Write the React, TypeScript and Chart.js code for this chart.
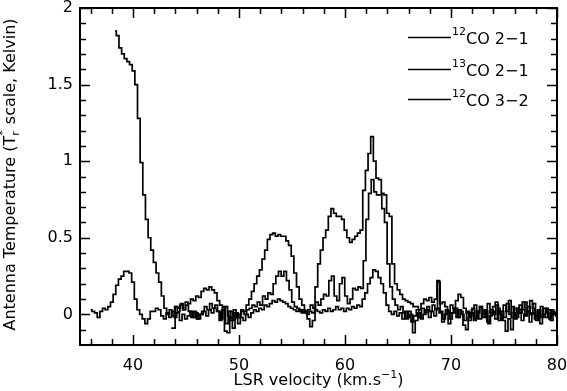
import React, { useEffect, useRef } from "react";
import { Chart, registerables } from "chart.js";

Chart.register(...registerables);

// ---- Data (velocity channels: start + i * width, km/s ; temperatures in K) ----
const CHANNEL_WIDTH = 0.25;

const START_12CO21 = 38.3;
const T_12CO21 = [
  1.85, 1.82, 1.74, 1.70, 1.67, 1.65, 1.63, 1.59, 1.50, 1.28, 0.99, 0.78,
  0.62, 0.50, 0.42, 0.34, 0.27, 0.21, 0.12, 0.04, 0.00, 0.03, -0.01, 0.05,
  0.02, 0.06, 0.03, 0.08, 0.07, 0.10, 0.09, 0.12, 0.11, 0.15, 0.17, 0.16,
  0.18, 0.16, 0.14, 0.09, 0.06, 0.03, 0.05, -0.01, 0.02, -0.03, 0.01, -0.02,
  0.03, 0.02, 0.06, 0.10, 0.15, 0.20, 0.25, 0.29, 0.36, 0.42, 0.49, 0.52,
  0.53, 0.51, 0.52, 0.51, 0.51, 0.48, 0.45, 0.38, 0.27, 0.18, 0.10, 0.06,
  0.02, -0.03, -0.08, -0.04, 0.18, 0.33, 0.42, 0.50, 0.55, 0.64, 0.69, 0.66,
  0.64, 0.64, 0.62, 0.55, 0.50, 0.47, 0.49, 0.51, 0.53, 0.55, 0.81, 0.94,
  1.05, 1.16, 1.00, 0.89, 0.88, 0.79, 0.78, 0.66, 0.64, 0.33, 0.20, 0.16,
  0.13, 0.10, 0.09, 0.08, 0.07, 0.05, 0.05, 0.03, 0.07, 0.10, 0.09, 0.11,
  0.08, 0.10, 0.22, 0.07, 0.08, 0.05, 0.02, 0.06, 0.04, 0.09, 0.13, 0.11,
  0.04, 0.01, -0.04, 0.03, 0.06, 0.02, 0.05, -0.02, 0.03, 0.07, 0.01, 0.05,
  0.08, 0.02, -0.03, 0.06, 0.02, 0.09, -0.02, 0.04, 0.01, 0.06, 0.03, 0.08,
  0.02, 0.09, 0.04, -0.01, 0.03, 0.05, 0.00, 0.04, -0.02, 0.03, 0.01, 0.02,
];

const START_13CO21 = 36.0;
const T_13CO21 = [
  0.03, 0.02, 0.01, -0.02, 0.02, 0.04, 0.03, 0.05, 0.08, 0.13, 0.19, 0.23,
  0.25, 0.28, 0.28, 0.27, 0.21, 0.10, 0.03, 0.00, -0.03, -0.06, -0.03, 0.02,
  0.02, 0.04, 0.03, -0.01, -0.03, 0.01, -0.02, 0.02, -0.02, 0.01, -0.04, 0.00,
  -0.03, -0.01, 0.02, -0.02, 0.01, -0.03, 0.00, 0.02, -0.01, 0.03, 0.01, 0.04,
  0.02, -0.04, 0.03, -0.11, -0.12, -0.02, -0.09, 0.01, -0.06, -0.02, -0.04, 0.00,
  -0.02, 0.01, 0.03, 0.02, 0.04, 0.03, 0.06, 0.05, 0.07, 0.09, 0.08, 0.10,
  0.09, 0.08, 0.07, 0.05, 0.04, 0.03, 0.02, 0.03, 0.01, 0.02, 0.00, 0.02,
  0.01, 0.03, 0.02, 0.01, 0.03, 0.02, 0.04, 0.02, 0.03, 0.05, 0.03, 0.04,
  0.02, 0.04, 0.03, 0.05, 0.04, 0.06, 0.05, 0.10, 0.14, 0.20, 0.24, 0.29,
  0.28, 0.24, 0.20, 0.14, 0.06, 0.02, 0.00, 0.02, -0.01, 0.01, -0.03, 0.02,
  -0.02, 0.00, -0.12, -0.04, 0.01, -0.03, 0.00, 0.03, -0.02, 0.02, -0.01, 0.04,
  0.01, -0.05, 0.00, 0.02, -0.03, 0.01, 0.04, -0.02, 0.02, -0.07, -0.10, -0.02,
  0.01, -0.04, 0.02, -0.03, 0.00, 0.03, -0.05, -0.01, 0.02, -0.03, 0.04, 0.00,
  -0.04, -0.11, -0.03, -0.10, 0.01, -0.02, 0.03, -0.04, 0.00, 0.02, -0.05, 0.01,
  -0.03, 0.02, -0.06, 0.00, -0.02, 0.03, -0.04, 0.01, -0.01,
];

const START_12CO32 = 43.6;
const T_12CO32 = [
  -0.09, -0.09, 0.05, 0.04, 0.07, 0.03, 0.06, 0.02, -0.02, 0.02, -0.03, 0.00,
  0.02, 0.05, 0.03, 0.07, 0.04, 0.06, 0.02, -0.03, 0.05, -0.06, 0.02, -0.04,
  0.03, -0.02, 0.00, 0.02, 0.00, 0.03, 0.04, 0.06, 0.05, 0.08, 0.06, 0.12,
  0.10, 0.14, 0.13, 0.20, 0.25, 0.28, 0.25, 0.28, 0.22, 0.16, 0.08, 0.05,
  0.04, 0.02, 0.03, 0.01, 0.03, 0.06, 0.04, 0.08, 0.06, 0.10, 0.13, 0.12,
  0.22, 0.25, 0.12, 0.09, 0.20, 0.24, 0.12, 0.07, 0.10, 0.17, 0.16, 0.18,
  0.17, 0.35, 0.62, 0.79, 0.88, 0.80, 0.78, 0.78, 0.69, 0.60, 0.33, 0.18,
  0.10, 0.06, 0.03, 0.05, 0.01, -0.03, 0.02, -0.05, -0.01, 0.03, -0.02, 0.04,
  0.01, 0.05, 0.02, 0.06, 0.03, 0.21, 0.02, -0.03, 0.03, -0.06, 0.01, 0.04,
  -0.02, 0.03, 0.00, -0.04, 0.02, -0.01, 0.04, -0.03, 0.01, 0.05, -0.02, 0.02,
  -0.06, 0.03, 0.00, 0.06, -0.04, 0.02, -0.02, 0.07, 0.00, 0.05, -0.03, 0.04,
  0.01, 0.08, -0.01, 0.05, 0.00, 0.07, -0.04, 0.03, -0.02, 0.04, 0.01, -0.03,
  0.02, 0.00, 0.01,
];

const X_MIN = 35;
const X_MAX = 80;
const Y_MIN = -0.2;
const Y_MAX = 2;
const X_TICKS = [36, 38, 40, 42, 44, 46, 48, 50, 52, 54, 56, 58, 60, 62, 64, 66, 68, 70, 72, 74, 76, 78, 80];
const X_LABELS = [40, 50, 60, 70, 80];
const Y_TICKS = [-0.1, 0, 0.1, 0.2, 0.3, 0.4, 0.5, 0.6, 0.7, 0.8, 0.9, 1, 1.1, 1.2, 1.3, 1.4, 1.5, 1.6, 1.7, 1.8, 1.9, 2];
const Y_LABELS = [0, 0.5, 1, 1.5, 2];

const LEGEND = [
  { iso: "12", name: "CO 2\u22121" },
  { iso: "13", name: "CO 2\u22121" },
  { iso: "12", name: "CO 3\u22122" },
];

const FONT = "'DejaVu Sans', 'Liberation Sans', sans-serif";

function toPoints(start: number, values: number[]) {
  return values.map((t, i) => ({ x: +(start + i * CHANNEL_WIDTH).toFixed(3), y: t }));
}

const decorPlugin = {
  id: "decor",
  afterDatasetsDraw(chart: any) {
    const { ctx, chartArea: a, scales } = chart;
    const x = scales.x;
    const y = scales.y;
    ctx.save();
    ctx.strokeStyle = "#000";
    ctx.fillStyle = "#000";

    // ticks (inward, on all four sides)
    ctx.lineWidth = 1.5;
    ctx.beginPath();
    for (const t of X_TICKS) {
      const px = Math.round(x.getPixelForValue(t)) + 0.5;
      const len = X_LABELS.includes(t) ? 10 : 6;
      ctx.moveTo(px, a.bottom);
      ctx.lineTo(px, a.bottom - len);
      ctx.moveTo(px, a.top);
      ctx.lineTo(px, a.top + len);
    }
    for (const t of Y_TICKS) {
      const py = Math.round(y.getPixelForValue(t)) + 0.5;
      const len = Y_LABELS.some((v) => Math.abs(v - t) < 1e-6) ? 10 : 6;
      ctx.moveTo(a.left, py);
      ctx.lineTo(a.left + len, py);
      ctx.moveTo(a.right, py);
      ctx.lineTo(a.right - len, py);
    }
    ctx.stroke();

    // frame
    ctx.lineWidth = 2;
    ctx.strokeRect(a.left, a.top, a.right - a.left, a.bottom - a.top);

    // tick labels
    ctx.font = `16px ${FONT}`;
    ctx.textAlign = "center";
    ctx.textBaseline = "alphabetic";
    for (const t of X_LABELS) {
      ctx.fillText(String(t), x.getPixelForValue(t), a.bottom + 25);
    }
    ctx.textAlign = "right";
    ctx.textBaseline = "middle";
    for (const t of Y_LABELS) {
      ctx.fillText(String(t), a.left - 7, y.getPixelForValue(t));
    }

    // x title: LSR velocity (km.s^-1)
    ctx.textAlign = "left";
    ctx.textBaseline = "alphabetic";
    const xs = [
      { t: "LSR velocity (km.s", size: 16, dy: 0 },
      { t: "\u22121", size: 11, dy: -7 },
      { t: ")", size: 16, dy: 0 },
    ];
    let w = 0;
    for (const s of xs) {
      ctx.font = `${s.size}px ${FONT}`;
      w += ctx.measureText(s.t).width;
    }
    let cx = (a.left + a.right) / 2 - w / 2;
    for (const s of xs) {
      ctx.font = `${s.size}px ${FONT}`;
      ctx.fillText(s.t, cx, 385 + s.dy);
      cx += ctx.measureText(s.t).width;
    }

    // y title: Antenna Temperature (T_r^* scale, Kelvin)
    ctx.save();
    ctx.translate(15, 0);
    ctx.rotate(-Math.PI / 2);
    const p1 = "Antenna Temperature (T";
    const p2 = " scale, Kelvin)";
    ctx.font = `16px ${FONT}`;
    const w1 = ctx.measureText(p1).width;
    const w3 = ctx.measureText(p2).width;
    ctx.font = `11px ${FONT}`;
    const w2 = Math.max(ctx.measureText("r").width, ctx.measureText("*").width) + 1;
    const total = w1 + w2 + w3;
    let ty = -((a.top + a.bottom) / 2) - total / 2 + 2;
    ctx.font = `16px ${FONT}`;
    ctx.fillText(p1, ty, 0);
    ty += w1;
    ctx.font = `11px ${FONT}`;
    ctx.fillText("r", ty, 4);
    ctx.fillText("*", ty, -9);
    ty += w2;
    ctx.font = `16px ${FONT}`;
    ctx.fillText(p2, ty, 0);
    ctx.restore();

    // legend
    const rows = [37, 69, 99];
    ctx.lineWidth = 1.7;
    LEGEND.forEach((item, i) => {
      const ly = rows[i] + 0.5;
      ctx.beginPath();
      ctx.moveTo(408, ly);
      ctx.lineTo(451, ly);
      ctx.stroke();
      ctx.font = `11px ${FONT}`;
      ctx.fillText(item.iso, 452, ly - 3);
      const iw = ctx.measureText(item.iso).width;
      ctx.font = `16px ${FONT}`;
      ctx.fillText(item.name, 452 + iw, ly + 6);
    });

    ctx.restore();
  },
};

export default function App() {
  const ref = useRef<HTMLCanvasElement | null>(null);

  useEffect(() => {
    if (!ref.current) return;
    const common = {
      borderColor: "#000",
      borderWidth: 1.7,
      pointRadius: 0,
      stepped: "middle" as const,
      fill: false,
      tension: 0,
    };
    const chart = new Chart(ref.current, {
      type: "line",
      data: {
        datasets: [
          { label: "12CO 2-1", data: toPoints(START_12CO21, T_12CO21), ...common },
          { label: "13CO 2-1", data: toPoints(START_13CO21, T_13CO21), ...common },
          { label: "12CO 3-2", data: toPoints(START_12CO32, T_12CO32), ...common },
        ],
      },
      options: {
        responsive: false,
        animation: false,
        parsing: true,
        layout: { padding: { left: 80, top: 8, right: 10, bottom: 46 } },
        scales: {
          x: { type: "linear", min: X_MIN, max: X_MAX, display: false },
          y: { type: "linear", min: Y_MIN, max: Y_MAX, display: false },
        },
        plugins: {
          legend: { display: false },
          tooltip: { enabled: false },
        },
      },
      plugins: [decorPlugin],
    });
    return () => chart.destroy();
  }, []);

  return (
    <div style={{ position: "fixed", left: 0, top: 0, width: 567, height: 391, background: "#fff" }}>
      <canvas ref={ref} width={567} height={391} style={{ display: "block" }} />
    </div>
  );
}
